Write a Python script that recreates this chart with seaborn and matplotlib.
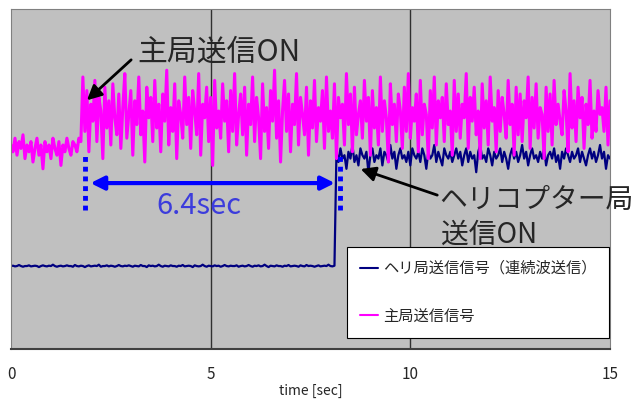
import numpy as np
import pandas as pd
import matplotlib
matplotlib.use("Agg")
import matplotlib.pyplot as plt
import seaborn as sns

# sampled every 0.05 s, 0 .. 15 s
time_sec = np.round(np.arange(0, 301) * 0.05, 2)

# main station signal: before ON (0 .. 1.75 s)
main_before = [60, 58, 62, 57, 61, 59, 63, 56, 60, 58, 61, 55, 59, 62, 57, 60, 53, 61,
               58, 60, 56, 62, 59, 57, 61, 54, 60, 58, 62, 59, 57, 61, 60, 58, 62, 61]
# main station signal: after ON (1.8 .. 15 s)
main_after = [
    80, 64, 76, 58, 72, 67, 79, 61, 74, 70, 56, 77, 65, 73, 60, 78, 68, 63, 75, 59,
    71, 81, 62, 69, 76, 57, 73, 66, 80, 63, 70, 55, 77, 68, 74, 61, 79, 65, 72, 58,
    75, 67, 82, 60, 71, 64, 78, 56, 73, 69, 62, 80, 66, 74, 59, 76, 70, 63, 81, 57,
    72, 68, 77, 61, 74, 54, 79, 65, 70, 62, 78, 67, 73, 58, 76, 64, 81, 60, 69, 75,
    63, 77, 57, 72, 66, 80, 61, 74, 68, 56, 78, 64, 71, 59, 76, 67, 82, 62, 73, 55,
    70, 79, 64, 75, 58, 72, 66, 81, 60, 74, 69, 63, 77, 57, 73, 65, 79, 61, 71, 67,
    76, 59, 80, 64, 70, 62, 78, 56, 74, 68, 72, 60, 81, 66, 75, 58, 77, 63, 69, 73,
    62, 79, 67, 74, 57, 76, 65, 71, 60, 80, 64, 73, 68, 55, 78, 66, 72, 61, 75, 70,
    59, 77, 64, 81, 62, 71, 67, 75, 58, 79, 63, 72, 69, 56, 76, 65, 80, 60, 73, 68,
    74, 61, 78, 66, 70, 57, 79, 64, 75, 62, 72, 68, 81, 59, 74, 67, 77, 63, 70, 56,
    78, 65, 73, 60, 80, 67, 71, 58, 76, 64, 74, 69, 62, 79, 66, 72, 57, 77, 63, 75,
    61, 73, 68, 80, 59, 74, 65, 78, 62, 71, 69, 56, 77, 64, 75, 60, 79, 66, 72, 67,
    63, 76, 70, 58, 81, 65, 73, 61, 77, 68, 74, 59, 72, 66, 79, 62, 70, 64, 76, 69,
    71, 64, 77, 60, 73]

# helicopter signal: before ON (0 .. 8.1 s)
heli_before = [
    24.4, 24.5, 24.3, 24.4, 24.7, 24.4, 24.2, 24.4, 24.4, 24.6, 24.3, 24.4, 24.5, 24.4, 24.1, 24.4, 24.6, 24.4, 24.3, 24.5,
    24.4, 24.8, 24.4, 24.2, 24.4, 24.5, 24.3, 24.4, 24.6, 24.4, 24.4, 24.2, 24.7, 24.4, 24.3, 24.5, 24.4, 24.1, 24.4, 24.6,
    24.3, 24.4, 24.5, 24.4, 24.8, 24.2, 24.4, 24.4, 24.6, 24.3, 24.5, 24.4, 24.2, 24.4, 24.7, 24.4, 24.3, 24.5, 24.4, 24.6,
    24.4, 24.2, 24.5, 24.4, 24.3, 24.7, 24.4, 24.4, 24.1, 24.6, 24.4, 24.5, 24.3, 24.4, 24.8, 24.4, 24.2, 24.5, 24.4, 24.3,
    24.6, 24.4, 24.4, 24.2, 24.5, 24.4, 24.7, 24.3, 24.4, 24.5, 24.4, 24.1, 24.6, 24.4, 24.3, 24.4, 24.8, 24.4, 24.2, 24.5,
    24.4, 24.3, 24.6, 24.4, 24.5, 24.2, 24.4, 24.7, 24.4, 24.3, 24.5, 24.4, 24.4, 24.6, 24.2, 24.4, 24.5, 24.3, 24.4, 24.7,
    24.4, 24.2, 24.5, 24.4, 24.6, 24.3, 24.4, 24.8, 24.4, 24.1, 24.5, 24.4, 24.3, 24.6, 24.4, 24.4, 24.2, 24.5, 24.4, 24.7,
    24.3, 24.4, 24.5, 24.4, 24.2, 24.6, 24.4, 24.3, 24.7, 24.4, 24.5, 24.4, 24.2, 24.4, 24.6, 24.3, 24.4, 24.5, 24.4, 24.8,
    24.4, 24.3, 24.5]
# helicopter signal: after ON (8.15 .. 15 s)
heli_after = [
    58, 55, 59, 56, 57, 53, 58, 56, 60, 55, 57, 54, 59, 57, 56, 58, 52, 57, 59, 55,
    57, 56, 59, 54, 58, 57, 55, 60, 56, 58, 53, 57, 59, 56, 57, 55, 58, 54, 59, 57,
    56, 58, 55, 59, 57, 53, 58, 56, 57, 60, 55, 58, 56, 54, 59, 57, 56, 58, 55, 57,
    59, 56, 58, 54, 57, 59, 55, 58, 56, 57, 52, 58, 60, 56, 57, 55, 59, 57, 54, 58,
    56, 57, 59, 55, 58, 56, 53, 57, 59, 56, 58, 55, 57, 60, 56, 58, 54, 57, 59, 56,
    57, 55, 58, 56, 59, 54, 57, 58, 56, 59, 55, 57, 53, 58, 56, 59, 57, 55, 58, 56,
    57, 59, 55, 58, 56, 54, 57, 59, 56, 58, 55, 57, 60, 56, 58, 53, 57, 56]

labels = ["ヘリ局送信信号（連続波送信）", "主局送信信号"]

df = pd.DataFrame({
    "time": time_sec,
    "heli": heli_before + heli_after,
    "main": main_before + main_after,
})

sns.set_style("white")
plt.rcParams["font.family"] = ["Noto Sans CJK JP", "DejaVu Sans"]

fig = plt.figure(figsize=(6.36, 4.01), dpi=100)
ax = fig.add_axes([11 / 636, 52 / 401, 599 / 636, 340 / 401])
ax.set_facecolor("#c0c0c0")

sns.lineplot(data=df, x="time", y="heli", color="#000080", lw=1.6,
             estimator=None, sort=False, ax=ax, label=labels[0])
sns.lineplot(data=df, x="time", y="main", color="#ff00ff", lw=2.2,
             estimator=None, sort=False, ax=ax, label=labels[1])

ax.set_xlim(0, 15)
ax.set_ylim(0, 100)
ax.set_xticks([0, 5, 10, 15])
ax.set_yticks([])
ax.set_ylabel("")
ax.set_xlabel("time [sec]", fontsize=10, labelpad=1)
ax.tick_params(axis="x", labelsize=11, length=0, pad=12)
for x in [5, 10]:
    ax.axvline(x, color="#303030", lw=1, zorder=1)
for side in ["top", "right", "left"]:
    ax.spines[side].set_color("#808080")
ax.spines["bottom"].set_color("#404040")
ax.spines["bottom"].set_linewidth(1.5)

# annotations
ax.annotate("", xy=(1.85, 72.6), xytext=(3.06, 85.6),
            arrowprops=dict(arrowstyle="-|>", color="black", lw=2, mutation_scale=22))
ax.text(3.16, 87.4, "主局送信ON", fontsize=21.5, va="center", ha="left")

ax.plot([1.85, 1.85], [41, 58], color="#0000ff", lw=3.5, ls=(0, (1, 1)))
ax.plot([8.25, 8.25], [41, 58], color="#0000ff", lw=3.5, ls=(0, (1, 1)))
ax.annotate("", xy=(1.92, 48.8), xytext=(8.18, 48.8),
            arrowprops=dict(arrowstyle="<|-|>", color="#0000ff", lw=3, mutation_scale=20))
ax.text(4.7, 42.2, "6.4sec", fontsize=21, color="#3c3cdc", ha="center", va="center")

ax.annotate("", xy=(8.69, 53.2), xytext=(10.74, 45),
            arrowprops=dict(arrowstyle="-|>", color="black", lw=2, mutation_scale=22))
ax.text(10.72, 43.8, "ヘリコプター局", fontsize=20, va="center", ha="left", clip_on=False)
ax.text(10.78, 33.5, "送信ON", fontsize=20, va="center", ha="left")

leg = ax.legend(loc="upper left", bbox_to_anchor=(347 / 636, 154 / 401),
                bbox_transform=fig.transFigure, fontsize=11, frameon=True,
                fancybox=False, edgecolor="black", framealpha=1, labelspacing=2.0,
                handlelength=1.2, handletextpad=0.3, borderpad=0.85, borderaxespad=0)
leg.get_frame().set_linewidth(0.8)
for line in leg.get_lines():
    line.set_linewidth(1.5)

plt.savefig("out.png", dpi=100)
